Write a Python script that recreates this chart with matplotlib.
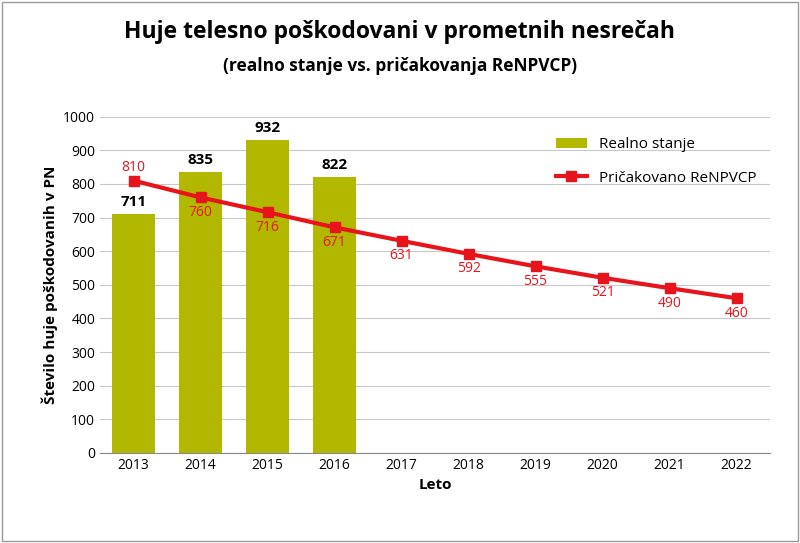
import matplotlib
matplotlib.use("Agg")
import matplotlib.pyplot as plt

years = [2013, 2014, 2015, 2016, 2017, 2018, 2019, 2020, 2021, 2022]
real_years = [2013, 2014, 2015, 2016]
real = [711, 835, 932, 822]
expected = [810, 760, 716, 671, 631, 592, 555, 521, 490, 460]

plt.rcParams['font.family'] = ['Open Sans', 'DejaVu Sans']
fig = plt.figure(figsize=(8, 5.43), dpi=100)
ax = fig.add_axes([0.125, 0.166, 0.8375, 0.619])
x = list(range(len(years)))
rx = [years.index(y) for y in real_years]
b = ax.bar(rx, real, width=0.65, color='#B2B800', label='Realno stanje', zorder=2)
l, = ax.plot(x, expected, color='#E8141B', lw=3, marker='s', ms=7, label='Pričakovano ReNPVCP', zorder=3)
for i, v in zip(rx, real):
    ax.text(i, v + 15, str(v), ha='center', va='bottom', fontsize=11, fontweight='bold')
for i, v in enumerate(expected):
    if i == 0:
        ax.text(i, v + 18, str(v), ha='center', va='bottom', fontsize=10, color='#E8141B')
    else:
        ax.text(i, v - 22, str(v), ha='center', va='top', fontsize=10, color='#E8141B')
ax.set_xlim(-0.5, len(years) - 0.5)
ax.set_ylim(0, 1000)
ax.set_yticks(range(0, 1001, 100))
ax.set_xticks(x)
ax.set_xticklabels([str(y) for y in years])
ax.tick_params(labelsize=10, length=0)
ax.grid(axis='y', color='#C8C8C8', lw=0.8, zorder=0)
for s in ['top', 'right', 'left']:
    ax.spines[s].set_visible(False)
ax.spines['bottom'].set_color('#888888')
ax.set_xlabel('Leto', fontsize=11, fontweight='bold')
ax.set_ylabel('Število huje poškodovanih v PN', fontsize=11, fontweight='bold')
ax.legend([b, l], ['Realno stanje', 'Pričakovano ReNPVCP'], loc='upper right',
          bbox_to_anchor=(1.0, 0.98), frameon=False, fontsize=11, labelspacing=1.2)
fig.text(0.5, 0.93, 'Huje telesno poškodovani v prometnih nesrečah', ha='center', fontsize=16.5, fontweight='bold')
fig.text(0.5, 0.87, '(realno stanje vs. pričakovanja ReNPVCP)', ha='center', fontsize=12.5, fontweight='bold')
fig.patches.append(plt.Rectangle((0.002, 0.003), 0.996, 0.994, transform=fig.transFigure, fill=False, ec='#999999', lw=1))
fig.savefig('out.png', dpi=100)
